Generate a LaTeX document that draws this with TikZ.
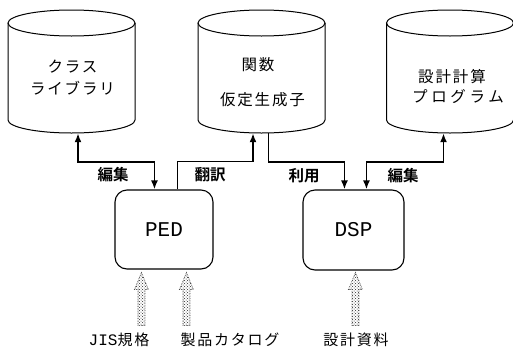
\documentclass[tikz,border=0pt]{standalone}
\usepackage{fontspec}
\usetikzlibrary{arrows.meta,patterns,calc}
\newfontfamily\jp{Noto Sans CJK JP}[BoldFont={Noto Sans CJK JP Bold}]
\newfontfamily\jpw{Noto Sans CJK JP}[LetterSpace=12]
\newfontfamily\jpww{Noto Sans CJK JP}[LetterSpace=24]
\newfontfamily\mono{Liberation Mono}
\newcommand\mycyl[2]{%
  \draw[cylline] (#1,23) ellipse [x radius=63.5pt, y radius=13pt];
  \draw[cylline] (#1-63.5,23) -- (#1-63.5,120)
     arc [start angle=180, end angle=360, x radius=63.5pt, y radius=13pt]
     -- (#1+63.5,23);
  \node[cylbox] (#2) at (#1,71.5) {};
}
\newcommand\blkarrow[2]{%
  \path[blk] let \p1=(#1), \p2=(#2) in
    (\x1-3.5pt,\y1) -- (\x1-3.5pt,\y2-17pt) -- (\x1-7pt,\y2-17pt) -- (\x1,\y2)
    -- (\x1+7pt,\y2-17pt) -- (\x1+3.5pt,\y2-17pt) -- (\x1+3.5pt,\y1) -- cycle;
}
\begin{document}
\begin{tikzpicture}[x=1pt,y=-1pt,
  cylline/.style={line width=1pt},
  cylbox/.style={minimum width=127pt, minimum height=123pt, inner sep=0pt},
  cyltext/.style={font=\jpw\fontsize{15.5}{18}\selectfont, inner sep=0pt},
  proc/.style={draw, line width=1.1pt, rounded corners=12pt, inner sep=0pt,
     font=\mono\fontsize{21}{24}\selectfont},
  conn/.style={line width=1.8pt, arrows={[length=9pt,width=7pt]}},
  lab/.style={font=\jp\bfseries\fontsize{15.5}{18}\selectfont, inner sep=0pt},
  src/.style={font=\jpw\fontsize{15}{18}\selectfont, inner sep=0pt},
  blk/.style={pattern=crosshatch dots, pattern color=black!85, draw=black!70,
     densely dotted, line width=0.7pt}
]
\useasboundingbox (0,0) rectangle (513,351);
\fill[white] (0,0) rectangle (513,351);

\mycyl{71.5}{cyl1}
\mycyl{261.5}{cyl2}
\mycyl{450}{cyl3}

\node[cyltext] (t1a) at (72.5,67) {クラス};
\node[cyltext] (t1b) at (72.5,88) {ライブラリ};
\node[cyltext] (t2a) at (258,65) {関数};
\node[cyltext] (t2b) at (262.5,100) {仮定生成子};
\node[cyltext] (t3a) at (452,77) {設計計算};
\node[cyltext, font=\jpww\fontsize{15.5}{18}\selectfont] (t3b) at (458,97) {プログラム};

\node[proc, minimum width=98pt, minimum height=79pt] (ped) at (164,229.5) {PED};
\node[proc, minimum width=101pt, minimum height=80pt] (dsp) at (353.5,230) {DSP};

\draw[conn, {Latex}-{Latex}] ($(cyl1.south)+(6.5,0)$) -- ++(0,29) -| ($(ped.north west)+(40,0)$);
\draw[conn, -{Latex}] ($(ped.north west)+(63,0)$) -- ++(0,-28) -| ($(cyl2.south)+(-8.5,0)$);
\draw[conn, -{Latex}] ($(cyl2.south)+(7,0)$) -- ++(0,29) -| ($(dsp.north west)+(42,0)$);
\draw[conn, {Latex}-{Latex}] ($(cyl3.south)+(-6.5,0)$) -- ++(0,29) -| ($(dsp.north west)+(64,0)$);

\node[lab] (l1) at (113,175) {編集};
\node[lab] (l2) at (210,175) {翻訳};
\node[lab] (l3) at (304,176) {利用};
\node[lab] (l4) at (403,176) {編集};

\coordinate (b1) at ($(ped.south west)+(27,56)$);
\coordinate (b2) at ($(ped.south west)+(72,56)$);
\coordinate (b3) at ($(dsp.south west)+(53,55)$);
\blkarrow{b1}{$(ped.south west)+(27,3)$}
\blkarrow{b2}{$(ped.south west)+(72,3)$}
\blkarrow{b3}{$(dsp.south west)+(53,2)$}

\node[src] (s1) at (119,340) {{\mono\fontsize{16}{18}\selectfont JIS}規格};
\node[src] (s2) at (230,340) {製品カタログ};
\node[src] (s3) at (356,340) {設計資料};
\end{tikzpicture}
\end{document}
